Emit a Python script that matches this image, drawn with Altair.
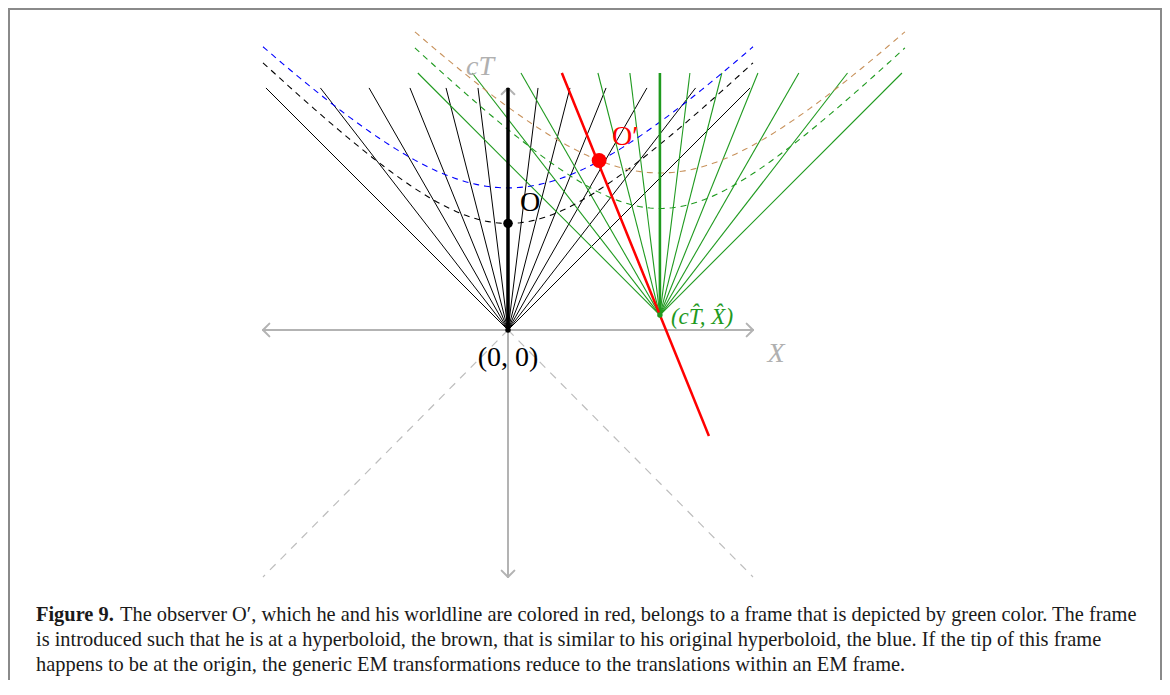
import altair as alt
import pandas as pd
import numpy as np

# ---- diagram values (units of the spacetime diagram) ----
fan_v = [-1.0, -0.775, -0.574, -0.405, -0.256, -0.124, 0.0,
         0.124, 0.256, 0.405, 0.574, 0.775, 1.0]      # dX/d(cT) of each fan line
fan_height = 9.88                                      # cT extent of the fan lines
tip = [6.2, 0.61]                                      # (X^, cT^) tip of the green frame
a_black = 4.35                                         # black hyperboloid vertex
a_blue = 5.8                                           # blue hyperboloid vertex
hyp_half = 10.0                                        # half X-range of hyperboloids
red_v = -0.405                                         # velocity of observer O'
red_bottom = -4.33                                     # lowest cT of red worldline
o_point = [0.0, 4.35]
o_prime = [3.72, 6.92]
axis_x = [-10.0, 10.0]
axis_ct = [-10.08, 9.88]
cone_ct = -10.08

caption_lines = [
    "The observer  O\u2032, which he and his worldline are colored in red, belongs to a frame that is depicted by green color. The frame",
    "is introduced such that he is at a hyperboloid, the brown, that is similar to his original hyperboloid, the blue. If the tip of this frame",
    "happens to be at the origin, the generic EM transformations reduce to the translations within an EM frame.",
]
caption_bold = "Figure 9."

# ---- layout ----
W, H = 1154, 672
PX = 24.5
ox, oy = 500, 322
xs = alt.Scale(domain=[-ox / PX, (W - ox) / PX], nice=False, zero=False)
ys = alt.Scale(domain=[-(H - oy) / PX, oy / PX], nice=False, zero=False)

GRAY = "#b3b3b3"
GREEN = "#1f9a1f"
BROWN = "#c8925c"
SERIF = "Liberation Serif"
CAP_SIZE = 20.4


def seg_chart(df, **mk):
    return alt.Chart(df).mark_rule(**mk).encode(
        x=alt.X("x:Q", scale=xs, axis=None),
        y=alt.Y("y:Q", scale=ys, axis=None),
        x2="x2:Q", y2="y2:Q")


# axes
ah = 0.26
axes_df = pd.DataFrame([
    dict(x=axis_x[0], y=0, x2=axis_x[1], y2=0),
    dict(x=0, y=axis_ct[0], x2=0, y2=axis_ct[1]),
    # arrow heads
    dict(x=axis_x[1] - ah, y=ah, x2=axis_x[1], y2=0),
    dict(x=axis_x[1] - ah, y=-ah, x2=axis_x[1], y2=0),
    dict(x=axis_x[0] + ah, y=ah, x2=axis_x[0], y2=0),
    dict(x=axis_x[0] + ah, y=-ah, x2=axis_x[0], y2=0),
    dict(x=-ah, y=axis_ct[0] + ah, x2=0, y2=axis_ct[0]),
    dict(x=ah, y=axis_ct[0] + ah, x2=0, y2=axis_ct[0]),
    dict(x=-ah, y=axis_ct[1] - ah, x2=0, y2=axis_ct[1]),
    dict(x=ah, y=axis_ct[1] - ah, x2=0, y2=axis_ct[1]),
])
axes = seg_chart(axes_df, color=GRAY, strokeWidth=2, strokeCap="round")

cone_df = pd.DataFrame([
    dict(x=0, y=0, x2=axis_x[0], y2=cone_ct),
    dict(x=0, y=0, x2=axis_x[1], y2=cone_ct),
])
cone = seg_chart(cone_df, color="#bdbdbd", strokeWidth=1.2, strokeDash=[8, 7])

# fans
black_df = pd.DataFrame([dict(x=0, y=0, x2=v * fan_height, y2=fan_height) for v in fan_v if v != 0])
green_df = pd.DataFrame([dict(x=tip[0], y=tip[1], x2=tip[0] + v * fan_height, y2=tip[1] + fan_height)
                         for v in fan_v if v != 0])
black_fan = seg_chart(black_df, color="black", strokeWidth=1)
green_fan = seg_chart(green_df, color=GREEN, strokeWidth=1.1)
black_thick = seg_chart(pd.DataFrame([dict(x=0, y=0, x2=0, y2=fan_height)]), color="black", strokeWidth=3.5)
green_thick = seg_chart(pd.DataFrame([dict(x=tip[0], y=tip[1], x2=tip[0], y2=tip[1] + fan_height)]),
                        color=GREEN, strokeWidth=2.6)
red_df = pd.DataFrame([dict(x=tip[0] + red_v * fan_height, y=tip[1] + fan_height,
                            x2=tip[0] + red_v * (red_bottom - tip[1]), y2=red_bottom)])
red_line = seg_chart(red_df, color="#ff0000", strokeWidth=2.5)

# hyperboloids
def hyp(a, cx, cy, name):
    xx = np.linspace(-hyp_half, hyp_half, 201)
    return pd.DataFrame(dict(x=xx + cx, y=np.sqrt(a * a + xx * xx) + cy, k=name, i=np.arange(len(xx))))


def hyp_chart(df, color):
    return alt.Chart(df).mark_line(color=color, strokeWidth=1.1, strokeDash=[6, 5]).encode(
        x=alt.X("x:Q", scale=xs, axis=None), y=alt.Y("y:Q", scale=ys, axis=None), order="i:Q")


h_black = hyp_chart(hyp(a_black, 0, 0, "black"), "black")
h_blue = hyp_chart(hyp(a_blue, 0, 0, "blue"), "#0000ff")
h_green = hyp_chart(hyp(a_black, tip[0], tip[1], "green"), GREEN)
h_brown = hyp_chart(hyp(a_blue, tip[0], tip[1], "brown"), BROWN)

# points
def pt(x, y, color, size):
    return alt.Chart(pd.DataFrame(dict(x=[x], y=[y]))).mark_circle(color=color, size=size, opacity=1).encode(
        x=alt.X("x:Q", scale=xs, axis=None), y=alt.Y("y:Q", scale=ys, axis=None))


p_origin = pt(0, 0, "black", 30)
p_o = pt(o_point[0], o_point[1], "black", 90)
p_op = pt(o_prime[0], o_prime[1], "#ff0000", 220)
p_tip = pt(tip[0], tip[1], GREEN, 30)

# labels
def lab(x, y, text, color, size, dx, dy, italic=False, align="center"):
    return alt.Chart(pd.DataFrame(dict(x=[x], y=[y], t=[text]))).mark_text(
        color=color, fontSize=size, font=SERIF, fontStyle="italic" if italic else "normal",
        dx=dx, dy=dy, align=align, baseline="middle").encode(
        x=alt.X("x:Q", scale=xs, axis=None), y=alt.Y("y:Q", scale=ys, axis=None), text="t:N")


labels = [
    lab(0, axis_ct[1], "cT", "#b0b0b0", 28, -28, -21, italic=True),
    lab(axis_x[1], 0, "X", "#b0b0b0", 28, 23, 24, italic=True),
    lab(0, 0, "(0, 0)", "black", 28, 0, 28),
    lab(o_point[0], o_point[1], "O", "black", 28, 22, -20),
    lab(o_prime[0], o_prime[1], "O\u2032", "#ff0000", 28, 26, -23),
    lab(tip[0], tip[1], "(c\u0054\u0302, X\u0302)", GREEN, 23, 11, 2, italic=True, align="left"),
]

# caption
cap_y = [607, 632, 657]
cap_x = 28
cap = [alt.Chart(pd.DataFrame(dict(t=[caption_bold]))).mark_text(
    font=SERIF, fontSize=CAP_SIZE, fontWeight="bold", align="left", baseline="middle", color="#1a1a1a").encode(
    x=alt.value(cap_x), y=alt.value(cap_y[0]), text="t:N")]
for i, line in enumerate(caption_lines):
    cap.append(alt.Chart(pd.DataFrame(dict(t=[line]))).mark_text(
        font=SERIF, fontSize=CAP_SIZE, align="left", baseline="middle", color="#1a1a1a").encode(
        x=alt.value(cap_x + (84 if i == 0 else 0)), y=alt.value(cap_y[i]), text="t:N"))

# frame border (left, top, right)
border = [
    alt.Chart(pd.DataFrame(dict(a=[0]))).mark_rule(color="#8a8a8a", strokeWidth=2).encode(
        x=alt.value(1), y=alt.value(1), y2=alt.value(H)),
    alt.Chart(pd.DataFrame(dict(a=[0]))).mark_rule(color="#8a8a8a", strokeWidth=2).encode(
        x=alt.value(0), x2=alt.value(1154), y=alt.value(1)),
    alt.Chart(pd.DataFrame(dict(a=[0]))).mark_rule(color="#8a8a8a", strokeWidth=2).encode(
        x=alt.value(1153), y=alt.value(1), y2=alt.value(H)),
]

chart = alt.layer(
    axes, cone, black_fan, green_fan, h_black, h_blue, h_green, h_brown,
    black_thick, green_thick, red_line, p_origin, p_o, p_op, p_tip,
    *labels, *cap, *border
).properties(width=W, height=H, padding=0, autosize=alt.AutoSizeParams(type="none")).configure_view(stroke=None)

chart.save("out.html", embed_options={"renderer": "svg", "actions": False})
